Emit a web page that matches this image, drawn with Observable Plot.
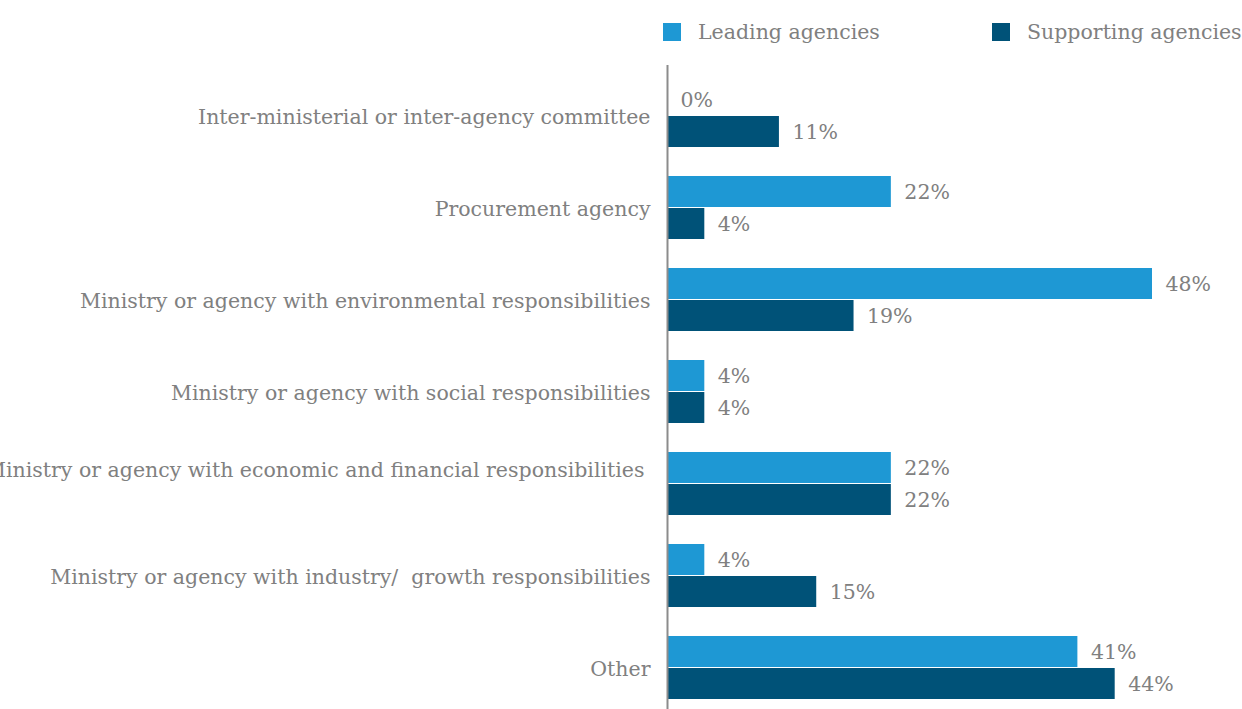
<!DOCTYPE html>
<html>
<head>
<meta charset="utf-8">
<script src="https://cdn.jsdelivr.net/npm/d3@7"></script>
<script src="https://cdn.jsdelivr.net/npm/@observablehq/plot@0.6"></script>
<style>
  html, body { margin: 0; padding: 0; background: #fff; overflow: hidden; }
  #legend { position: relative; height: 62px; font-family: "DejaVu Serif", serif; font-size: 20.5px; color: #808080; }
  .item { position: absolute; top: 20px; display: flex; align-items: center; white-space: nowrap; }
  .sw { width: 18px; height: 18px; margin-right: 17px; }
  #chart svg { display: block; }
</style>
</head>
<body>
<div id="legend"></div>
<div id="chart"></div>
<script>
const categories = [
  "Inter-ministerial or inter-agency committee",
  "Procurement agency",
  "Ministry or agency with environmental responsibilities",
  "Ministry or agency with social responsibilities",
  "Ministry or agency with economic and financial responsibilities",
  "Ministry or agency with industry/  growth responsibilities",
  "Other"
];
// bar lengths (labels are rounded)
const leading = [0, 22.2, 48.1, 3.7, 22.2, 3.7, 40.7];
const supporting = [11.1, 3.7, 18.5, 3.7, 22.2, 14.8, 44.4];
const seriesNames = ["Leading agencies", "Supporting agencies"];
const colors = ["#1e98d4", "#005278"];

const data = categories.map((c, i) => ({category: c, leading: leading[i], supporting: supporting[i]}));

// legend
const legend = document.getElementById("legend");
const legendX = [663, 992];
seriesNames.forEach((name, i) => {
  const it = document.createElement("div");
  it.className = "item";
  it.style.left = legendX[i] + "px";
  it.innerHTML = `<div class="sw" style="background:${colors[i]}"></div><span>${name}</span>`;
  legend.appendChild(it);
});

const textColor = "#808080";
const fs = 20.5;
const economic = categories[4];
const pct = v => Math.round(v) + "%";

const chart = Plot.plot({
  width: 1242,
  height: 647,
  marginLeft: 667,
  marginRight: 0,
  marginTop: 3,
  marginBottom: 0,
  style: {fontFamily: "DejaVu Serif, serif", background: "#fff"},
  x: {domain: [0, 48.1], range: [667, 1152], axis: null},
  y: {domain: categories, range: [19, 640], paddingInner: 0.31, paddingOuter: 0, axis: null},
  marks: [
    Plot.barX(data, {y: "category", x: "leading", fill: colors[0], insetBottom: 32}),
    Plot.barX(data, {y: "category", x: "supporting", fill: colors[1], insetTop: 32}),
    Plot.text(data, {y: "category", x: "leading", text: d => pct(d.leading), dx: 13, dy: -16, textAnchor: "start", fill: textColor, fontSize: fs}),
    Plot.text(data, {y: "category", x: "supporting", text: d => pct(d.supporting), dx: 13, dy: 16, textAnchor: "start", fill: textColor, fontSize: fs}),
    Plot.text(categories.filter(c => c !== economic), {y: d => d, x: 0, dx: -17, dy: 1, textAnchor: "end", fill: textColor, fontSize: fs}),
    Plot.text([economic], {y: d => d, x: 0, dx: -23, dy: -14, textAnchor: "end", fill: textColor, fontSize: fs}),
    Plot.ruleX([0], {stroke: "#8c8c8c", strokeWidth: 2})
  ]
});
document.getElementById("chart").appendChild(chart);
</script>
</body>
</html>
